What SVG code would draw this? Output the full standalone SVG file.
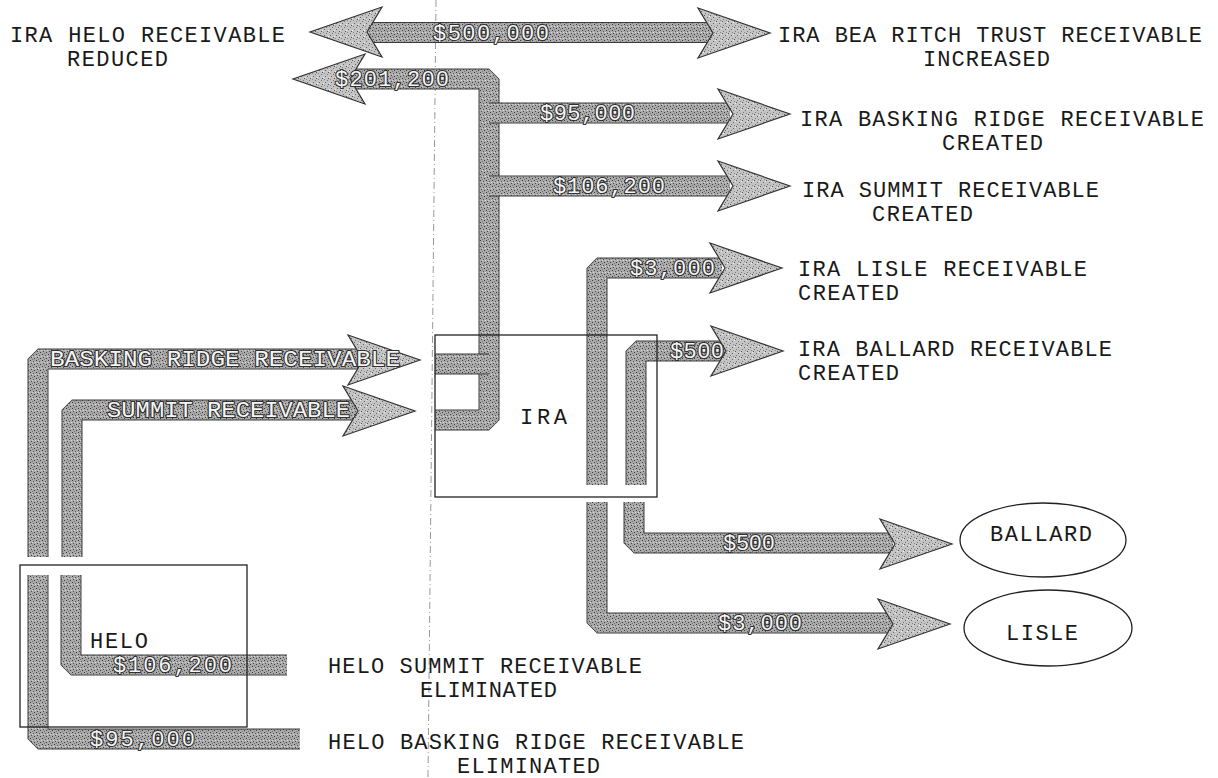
<svg xmlns="http://www.w3.org/2000/svg" xmlns:xlink="http://www.w3.org/1999/xlink" width="1218" height="778" viewBox="0 0 1218 778">
<defs>
  <pattern id="stip" width="6" height="6" patternUnits="userSpaceOnUse">
    <rect width="6" height="6" fill="#a9a9a9"/>
    <rect x="0" y="0" width="1" height="1" fill="#3a3a3a"/>
    <rect x="3" y="1" width="1" height="1" fill="#555"/>
    <rect x="1" y="3" width="1" height="1" fill="#4a4a4a"/>
    <rect x="4" y="4" width="1" height="1" fill="#3a3a3a"/>
    <rect x="2" y="5" width="1" height="1" fill="#777"/>
    <rect x="5" y="2" width="1" height="1" fill="#d8d8d8"/>
    <rect x="2" y="2" width="1" height="1" fill="#d0d0d0"/>
  </pattern>
  <pattern id="stipL" width="6" height="6" patternUnits="userSpaceOnUse">
    <rect width="6" height="6" fill="#c4c4c4"/>
    <rect x="0" y="0" width="1" height="1" fill="#555"/>
    <rect x="3" y="2" width="1" height="1" fill="#666"/>
    <rect x="1" y="4" width="1" height="1" fill="#777"/>
    <rect x="4" y="5" width="1" height="1" fill="#888"/>
    <rect x="5" y="1" width="1" height="1" fill="#eee"/>
  </pattern>
  <polygon id="ah" points="-72,-25 0,0 -72,25 -57,0"/>
  <style>
    text { font-family: "Liberation Mono", "DejaVu Sans Mono", monospace; font-size: 22px; fill: #1a1a1a; }
    .lbl { fill: #f4f4f4; stroke: #303030; stroke-width: 2.2px; paint-order: stroke; stroke-linejoin: round; }
    .barO { fill: none; stroke: #3c3c3c; stroke-width: 21; stroke-linejoin: bevel; stroke-linecap: butt; }
    .barI { fill: none; stroke: url(#stip); stroke-width: 19; stroke-linejoin: bevel; stroke-linecap: butt; }
    .head { fill: url(#stipL); stroke: #333; stroke-width: 1.2; stroke-linejoin: miter; }
    .box { fill: none; stroke: #222; stroke-width: 1.3; }
    .fold { fill: none; stroke: #9a9a9a; stroke-width: 1; stroke-dasharray: 7 3 1 3; }
  </style>
</defs>
<rect width="1218" height="778" fill="#ffffff"/>
<path class="fold" d="M436,0 L428,778"/>

<g id="connectors">
  <g id="bars">
    <path id="b500k" class="barO" d="M362,32.5 H718"/>
    <path class="barI" d="M362,32.5 H718"/>
    <path id="b201" class="barO" d="M435,420 H489 V79 H350"/>
    <path class="barI" d="M435,420 H489 V79 H350"/>
    <path id="bIraIn" class="barO" d="M435,364 H489"/>
    <path class="barI" d="M435,364 H489"/>
    <path id="b95" class="barO" d="M489,113 H730"/>
    <path class="barI" d="M489,113 H730"/>
    <path id="b106" class="barO" d="M489,186 H730"/>
    <path class="barI" d="M489,186 H730"/>
    <path id="bLisleTop" class="barO" d="M597,485 V268 H722"/>
    <path class="barI" d="M597,485 V268 H722"/>
    <path id="bBallardTop" class="barO" d="M636,485 V351 H725"/>
    <path class="barI" d="M636,485 V351 H725"/>
    <path id="bBallardBot" class="barO" d="M634,502 V543 H893"/>
    <path class="barI" d="M634,502 V543 H893"/>
    <path id="bLisleBot" class="barO" d="M597,502 V623 H893"/>
    <path class="barI" d="M597,502 V623 H893"/>
    <path id="bHeloBR" class="barO" d="M38,557 V359 H362"/>
    <path class="barI" d="M38,557 V359 H362"/>
    <path id="bHeloSum" class="barO" d="M72,557 V410 H357"/>
    <path class="barI" d="M72,557 V410 H357"/>
    <path id="bHeloBRlow" class="barO" d="M38,575 V739 H300"/>
    <path class="barI" d="M38,575 V739 H300"/>
    <path id="bHeloSumLow" class="barO" d="M71,575 V665 H287"/>
    <path class="barI" d="M71,575 V665 H287"/>
  </g>
  <g id="heads">
    <use href="#ah" class="head" transform="translate(310,32) rotate(180)"/>
    <use href="#ah" class="head" transform="translate(770,33)"/>
    <use href="#ah" class="head" transform="translate(293,79) rotate(180)"/>
    <use href="#ah" class="head" transform="translate(790,114)"/>
    <use href="#ah" class="head" transform="translate(790,186)"/>
    <use href="#ah" class="head" transform="translate(782,268)"/>
    <use href="#ah" class="head" transform="translate(783,351)"/>
    <use href="#ah" class="head" transform="translate(420,360)"/>
    <use href="#ah" class="head" transform="translate(415,411)"/>
    <use href="#ah" class="head" transform="translate(952,544)"/>
    <use href="#ah" class="head" transform="translate(950,624)"/>
  </g>
  <g id="connector-labels">
    <text class="lbl" x="433" y="40" textLength="116">$500,000</text>
    <text class="lbl" x="335" y="86" textLength="114">$201,200</text>
    <text class="lbl" x="540" y="120" textLength="95">$95,000</text>
    <text class="lbl" x="553" y="193" textLength="112">$106,200</text>
    <text class="lbl" x="630" y="275" textLength="85">$3,000</text>
    <text class="lbl" x="670" y="358" textLength="54">$500</text>
    <text class="lbl" x="723" y="550" textLength="52">$500</text>
    <text class="lbl" x="718" y="630" textLength="84">$3,000</text>
    <text class="lbl" x="50" y="366" textLength="350" lengthAdjust="spacingAndGlyphs">BASKING RIDGE RECEIVABLE</text>
    <text class="lbl" x="107" y="417" textLength="243" lengthAdjust="spacingAndGlyphs">SUMMIT RECEIVABLE</text>
    <text class="lbl" x="113" y="672" textLength="119">$106,200</text>
    <text class="lbl" x="90" y="746" textLength="105">$95,000</text>
  </g>
</g>

<g id="node-ira">
  <rect class="box" x="435" y="335" width="222" height="162"/>
  <text x="520" y="424" textLength="47">IRA</text>
</g>
<g id="node-helo">
  <rect class="box" x="20" y="565" width="227" height="162"/>
  <text x="90" y="648" textLength="58">HELO</text>
</g>
<g id="node-ballard">
  <ellipse class="box" cx="1043" cy="540" rx="83" ry="37"/>
  <text x="990" y="541" textLength="102">BALLARD</text>
</g>
<g id="node-lisle">
  <ellipse class="box" cx="1048" cy="628" rx="84" ry="38"/>
  <text x="1006" y="640" textLength="72">LISLE</text>
</g>

<g id="node-ira-helo-reduced">
  <text x="10" y="42" textLength="275">IRA HELO RECEIVABLE</text>
  <text x="67" y="66" textLength="101">REDUCED</text>
</g>
<g id="node-bea-ritch">
  <text x="778" y="42" textLength="424">IRA BEA RITCH TRUST RECEIVABLE</text>
  <text x="923" y="66" textLength="127">INCREASED</text>
</g>
<g id="node-ira-basking">
  <text x="800" y="126" textLength="404">IRA BASKING RIDGE RECEIVABLE</text>
  <text x="942" y="150" textLength="101">CREATED</text>
</g>
<g id="node-ira-summit">
  <text x="802" y="197" textLength="297">IRA SUMMIT RECEIVABLE</text>
  <text x="872" y="221" textLength="101">CREATED</text>
</g>
<g id="node-ira-lisle">
  <text x="798" y="276" textLength="289">IRA LISLE RECEIVABLE</text>
  <text x="798" y="300" textLength="101">CREATED</text>
</g>
<g id="node-ira-ballard">
  <text x="798" y="356" textLength="314">IRA BALLARD RECEIVABLE</text>
  <text x="798" y="380" textLength="101">CREATED</text>
</g>
<g id="node-helo-summit">
  <text x="328" y="673" textLength="314">HELO SUMMIT RECEIVABLE</text>
  <text x="420" y="697" textLength="137">ELIMINATED</text>
</g>
<g id="node-helo-basking">
  <text x="328" y="749" textLength="416">HELO BASKING RIDGE RECEIVABLE</text>
  <text x="457" y="773" textLength="143">ELIMINATED</text>
</g>
</svg>
